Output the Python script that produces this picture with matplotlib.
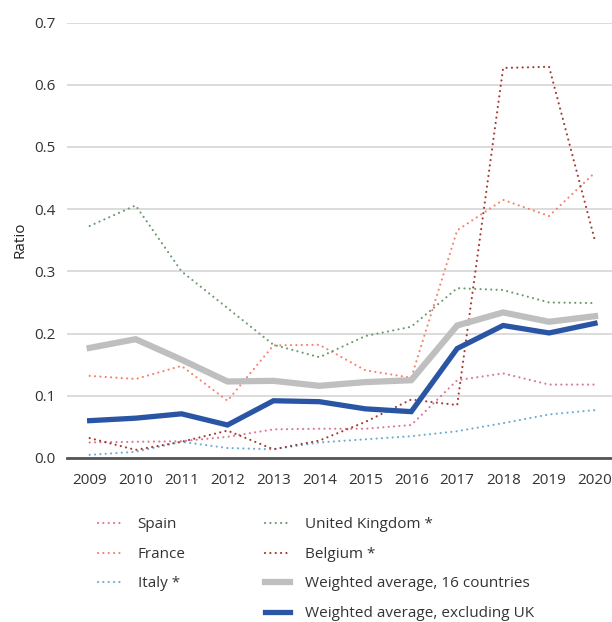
import numpy as np
import matplotlib.pyplot as plt
from matplotlib.lines import Line2D

plt.rcParams["font.family"] = ["Open Sans", "DejaVu Sans"]

YEARS = np.arange(2009, 2021)

SPAIN = [0.025, 0.026, 0.027, 0.034, 0.046, 0.047, 0.047, 0.053, 0.125, 0.136, 0.118, 0.118]
FRANCE = [0.132, 0.127, 0.148, 0.092, 0.181, 0.182, 0.141, 0.129, 0.366, 0.415, 0.389, 0.459]
ITALY = [0.005, 0.010, 0.026, 0.016, 0.014, 0.025, 0.030, 0.035, 0.043, 0.056, 0.070, 0.077]
UK = [0.373, 0.406, 0.300, 0.241, 0.182, 0.162, 0.196, 0.211, 0.273, 0.270, 0.250, 0.249]
BELGIUM = [0.032, 0.013, 0.026, 0.044, 0.014, 0.028, 0.058, 0.094, 0.085, 0.627, 0.629, 0.349]
AVG16 = [0.177, 0.191, 0.158, 0.123, 0.124, 0.116, 0.122, 0.125, 0.213, 0.234, 0.219, 0.228]
AVG_EX_UK = [0.060, 0.064, 0.071, 0.053, 0.092, 0.0905, 0.079, 0.0745, 0.176, 0.213, 0.201, 0.2165]

DOTTED = [
    ("Spain", SPAIN, "#d97a90"),
    ("France", FRANCE, "#f5826e"),
    ("Italy *", ITALY, "#6badd3"),
    ("United Kingdom *", UK, "#6e9a72"),
    ("Belgium *", BELGIUM, "#a63a32"),
]

fig = plt.figure(figsize=(6.12, 6.22), dpi=100)
ax = fig.add_axes([0.109, 0.2637, 0.891, 0.7])

# round-capped near-zero dashes give proper dots
dot = (0, (0.01, 2.4))
lines = {}
for name, vals, col in DOTTED:
    lines[name], = ax.plot(YEARS, vals, color=col, lw=1.6, ls=dot,
                           dash_capstyle="round")
lines["avg16"], = ax.plot(YEARS, AVG16, color="#bfbfbf", lw=4.5,
                          solid_joinstyle="miter")
lines["avgex"], = ax.plot(YEARS, AVG_EX_UK, color="#2a55a5", lw=3.8,
                          solid_joinstyle="miter")

ax.set_xlim(2008.5, 2020.37)
ax.set_ylim(0, 0.7)
ax.set_xticks(YEARS)
ax.set_yticks(np.arange(0, 0.71, 0.1))
ax.set_yticklabels([f"{v:.1f}" for v in np.arange(0, 0.71, 0.1)])
ax.grid(axis="y", color="#d9d9d9", lw=1.3)
ax.set_axisbelow(True)
for s in ["top", "right", "left"]:
    ax.spines[s].set_visible(False)
ax.spines["bottom"].set_color("#555555")
ax.spines["bottom"].set_linewidth(2)
ax.spines["bottom"].set_zorder(5)
ax.tick_params(axis="both", length=0, labelsize=11, colors="#333333")
ax.tick_params(axis="x", pad=11)
ax.tick_params(axis="y", pad=8)

fig.text(0.033, 0.615, "Ratio", rotation=90, ha="center", va="center",
         fontsize=11, color="#222222")

blank = Line2D([], [], color="none")
handles = [lines["Spain"], lines["France"], lines["Italy *"], blank,
           lines["United Kingdom *"], lines["Belgium *"], lines["avg16"],
           lines["avgex"]]
labels = ["Spain", "France", "Italy *", "", "United Kingdom *", "Belgium *",
          "Weighted average, 16 countries", "Weighted average, excluding UK"]
fig.legend(handles, labels, ncol=2, loc="upper left",
           bbox_to_anchor=(0.15, 0.178), frameon=False, fontsize=11,
           handlelength=1.6, handletextpad=1.0, columnspacing=5.2,
           labelspacing=0.95, labelcolor="#333333", borderaxespad=0)

fig.savefig("out.png", dpi=100)
